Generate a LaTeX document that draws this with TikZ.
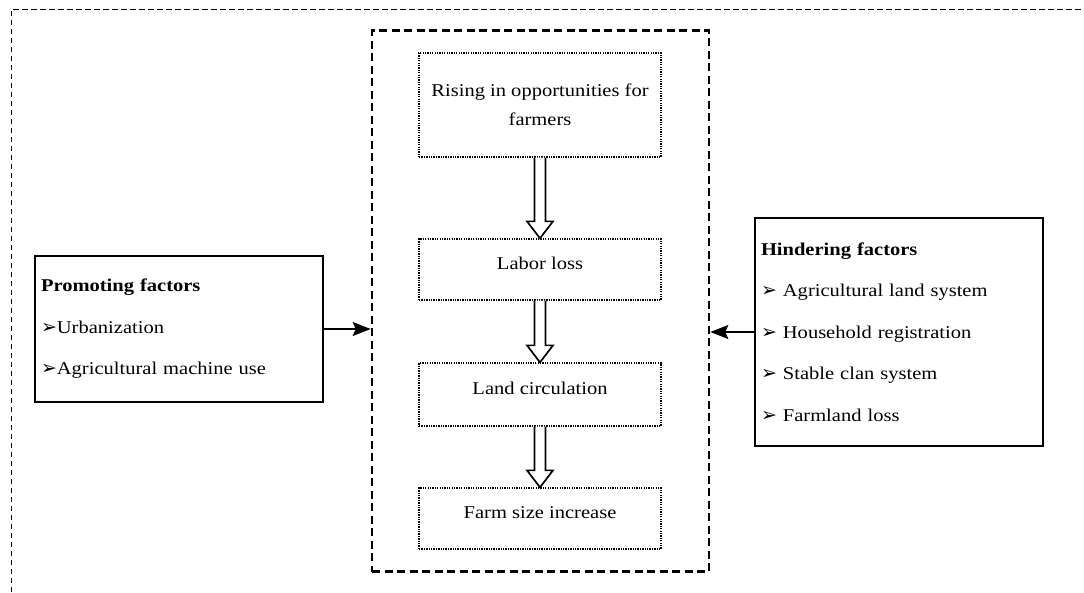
\documentclass[tikz,border=0pt]{standalone}
\usepackage{fontspec}
\setmainfont{Liberation Serif}[FakeStretch=1.14]
\newfontfamily\symfont{DejaVu Sans}
\usetikzlibrary{calc,arrows.meta}
\newcommand\bul{{\symfont\fontsize{19}{19}\selectfont ➢}}
\newcommand\hollowarrow[2]{%
  \draw[hollow] ($(#1.south)+(-5.5,0)$) -- ($(#2.north)+(-5.5,-17)$) -- ($(#2.north)+(-13,-17)$)
    -- (#2.north) -- ($(#2.north)+(13,-17)$) -- ($(#2.north)+(5.5,-17)$) -- ($(#1.south)+(5.5,0)$);}
\tikzset{
  frame/.style={line width=1pt, dash pattern=on 5.5pt off 3.5pt},
  corebox/.style={draw, line width=2.6pt, dash pattern=on 8pt off 4.5pt, minimum width=337pt, minimum height=541pt, inner sep=0pt},
  stepbox/.style={draw, line width=1.3pt, dash pattern=on 1.3pt off 1.1pt, minimum width=242pt, inner sep=0pt, align=center,
     font=\fontsize{18}{29}\selectfont},
  onel/.style={text height=8pt, text depth=8pt},
  sidebox/.style={draw, line width=2pt, minimum width=288pt, align=left, inner sep=6pt, text width=276pt,
     font=\fontsize{18}{41.5}\selectfont},
  hollow/.style={draw, line width=1.7pt, fill=white, line join=miter},
  conn/.style={line width=1.6pt, -{Stealth[length=18pt, width=14pt, inset=3pt]}}
}
\begin{document}
\begin{tikzpicture}[x=1pt, y=-1pt]
\useasboundingbox (0,0) rectangle (1084,592);
\coordinate (fl) at (11,592);
\coordinate (ft) at (11,9);
\coordinate (fr) at (1084,9);
\draw[frame] (fl) -- (ft) -- (fr);

\node[corebox] (core) at (540.5,301) {};

\node[stepbox, minimum height=104pt] (s1) at (540,105) {Rising in opportunities for\\farmers};
\node[stepbox, onel, minimum height=61pt] (s2) at (540,269.5) {Labor loss};
\node[stepbox, onel, minimum height=63pt] (s3) at (540,394.5) {Land circulation};
\node[stepbox, onel, minimum height=61pt] (s4) at (540,518.5) {Farm size increase};

\hollowarrow{s1}{s2}
\hollowarrow{s2}{s3}
\hollowarrow{s3}{s4}

\node[sidebox, minimum height=146pt] (promo) at (179,329)
  {\textbf{Promoting factors}\\\bul Urbanization\\\bul Agricultural machine use};
\node[sidebox, minimum height=228pt] (hinder) at (899,332)
  {\textbf{Hindering factors}\\\bul\ Agricultural land system\\\bul\ Household registration\\\bul\ Stable clan system\\\bul\ Farmland loss};

\draw[conn] (promo.east) -- (promo.east -| core.west);
\draw[conn] (hinder.west) -- (hinder.west -| core.east);
\end{tikzpicture}
\end{document}
